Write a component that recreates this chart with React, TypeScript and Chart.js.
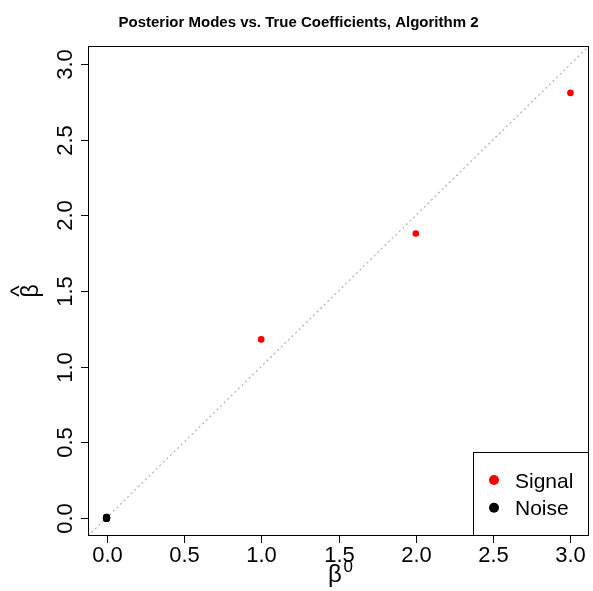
import React, { useEffect, useRef } from "react";
import { Chart, registerables } from "chart.js";

Chart.register(...registerables);

// ---- data ----
const xLimits = [-0.12, 3.12];
const yLimits = [-0.12, 3.12];
const xTicks = [0, 0.5, 1, 1.5, 2, 2.5, 3];
const yTicks = [0, 0.5, 1, 1.5, 2, 2.5, 3];
const xTickLabels = ["0.0", "0.5", "1.0", "1.5", "2.0", "2.5", "3.0"];
const yTickLabels = ["0.0", "0.5", "1.0", "1.5", "2.0", "2.5", "3.0"];
const signalTrue = [1, 2, 3];
const signalMode = [1.18, 1.88, 2.81];
const noiseTrue = [0, 0, 0, 0, 0, 0];
const noiseMode = [0, 0.004, -0.004, 0.003, -0.002, 0.001];
const identityX = [xLimits[0], xLimits[1]];
const titleText = "Posterior Modes vs. True Coefficients, Algorithm 2";
const legendLabels = ["Signal", "Noise"];
const legendColors = ["#ff0000", "#000000"];

const FONT = '"Liberation Sans", Arial, Helvetica, sans-serif';

const decorPlugin = {
  id: "rDecor",
  afterDraw(chart: any) {
    const ctx = chart.ctx as CanvasRenderingContext2D;
    const { left, right, top, bottom } = chart.chartArea;
    const xs = chart.scales.x;
    const ys = chart.scales.y;
    ctx.save();
    ctx.strokeStyle = "#000";
    ctx.fillStyle = "#000";
    ctx.lineWidth = 1;
    // box
    ctx.strokeRect(left + 0.5, top + 0.5, right - left - 1, bottom - top - 1);
    // x ticks
    ctx.font = `22px ${FONT}`;
    ctx.textAlign = "center";
    ctx.textBaseline = "alphabetic";
    xTicks.forEach((v, i) => {
      const px = Math.round(xs.getPixelForValue(v)) + 0.5;
      ctx.beginPath();
      ctx.moveTo(px, bottom);
      ctx.lineTo(px, bottom + 7);
      ctx.stroke();
      ctx.fillText(xTickLabels[i], px, 562);
    });
    // y ticks
    yTicks.forEach((v, i) => {
      const py = Math.round(ys.getPixelForValue(v)) + 0.5;
      ctx.beginPath();
      ctx.moveTo(left, py);
      ctx.lineTo(left - 7, py);
      ctx.stroke();
      ctx.save();
      ctx.translate(72, py);
      ctx.rotate(-Math.PI / 2);
      ctx.fillText(yTickLabels[i], 0, 0);
      ctx.restore();
    });
    // title
    ctx.font = `bold 15px ${FONT}`;
    ctx.textAlign = "center";
    ctx.fillText(titleText, 298.5, 26.5);
    // x label beta^0
    ctx.font = `24px ${FONT}`;
    ctx.textAlign = "left";
    ctx.fillText("β", 328, 582);
    ctx.font = `17px ${FONT}`;
    ctx.fillText("0", 343.5, 571.5);
    // y label beta hat
    ctx.save();
    ctx.translate(38, 291);
    ctx.rotate(-Math.PI / 2);
    ctx.textAlign = "center";
    ctx.font = `23px ${FONT}`;
    ctx.fillText("β", 0, 0);
    ctx.font = `24px ${FONT}`;
    ctx.fillText("^", 0, -11);
    ctx.restore();
    // legend
    const lw = 116;
    const lh = 84;
    const lx = right - lw;
    const ly = bottom - lh;
    ctx.fillStyle = "#fff";
    ctx.fillRect(lx, ly, lw, lh);
    ctx.strokeStyle = "#000";
    ctx.strokeRect(lx + 0.5, ly + 0.5, lw - 1, lh - 1);
    ctx.font = `21px ${FONT}`;
    ctx.textAlign = "left";
    legendLabels.forEach((lab, i) => {
      const cy = ly + 28 + i * 27.7;
      ctx.fillStyle = legendColors[i];
      ctx.beginPath();
      ctx.arc(lx + 21, cy, 5, 0, Math.PI * 2);
      ctx.fill();
      ctx.fillStyle = "#000";
      ctx.fillText(lab, lx + 42, cy + 7.7);
    });
    ctx.restore();
  },
};

export default function App() {
  const ref = useRef<HTMLCanvasElement | null>(null);
  useEffect(() => {
    if (!ref.current) return;
    const chart = new Chart(ref.current, {
      type: "scatter",
      data: {
        datasets: [
          {
            label: "Signal",
            data: signalTrue.map((x, i) => ({ x, y: signalMode[i] })),
            backgroundColor: legendColors[0],
            borderWidth: 0,
            pointRadius: 3.3,
            order: 1,
          },
          {
            label: "Noise",
            data: noiseTrue.map((x, i) => ({ x, y: noiseMode[i] })),
            backgroundColor: legendColors[1],
            borderWidth: 0,
            pointRadius: 3.6,
            order: 2,
          },
          {
            label: "identity",
            type: "line",
            data: identityX.map((x) => ({ x, y: x })),
            borderColor: "#b0b0b0",
            borderWidth: 1.2,
            borderDash: [2, 3],
            pointRadius: 0,
            fill: false,
            order: 3,
          } as any,
        ],
      },
      options: {
        animation: false,
        responsive: false,
        events: [],
        layout: { padding: { left: 88, top: 46, right: 3, bottom: 55 } },
        plugins: { legend: { display: false }, tooltip: { enabled: false }, title: { display: false } },
        scales: {
          x: { type: "linear", min: xLimits[0], max: xLimits[1], display: false },
          y: { type: "linear", min: yLimits[0], max: yLimits[1], display: false },
        },
      },
      plugins: [decorPlugin],
    });
    return () => chart.destroy();
  }, []);
  return (
    <div style={{ position: "fixed", left: 0, top: 0, width: 593, height: 591, background: "#fff" }}>
      <canvas ref={ref} width={593} height={591} style={{ display: "block" }} />
    </div>
  );
}
